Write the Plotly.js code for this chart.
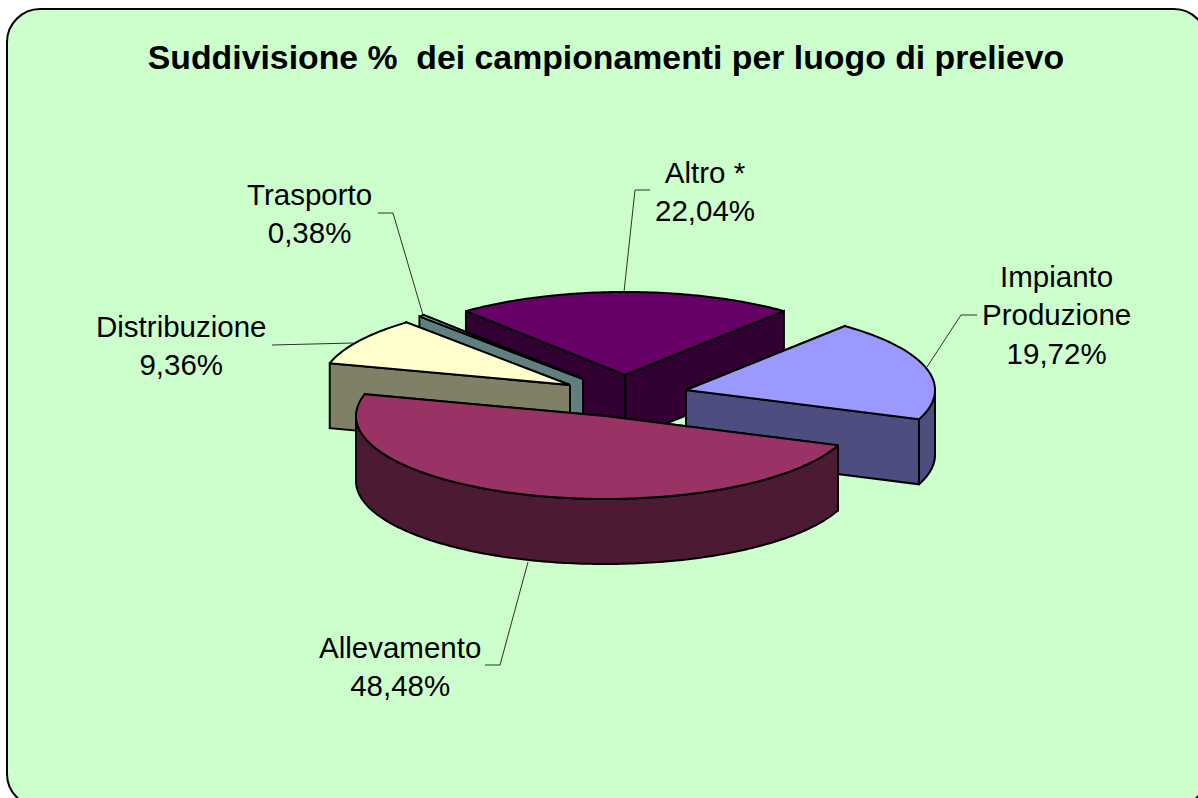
<!DOCTYPE html>
<html><head><meta charset="utf-8">
<script src="https://cdn.plot.ly/plotly-3.0.1.min.js"></script>
<style>html,body{margin:0;padding:0;background:#fff}#c{width:1198px;height:798px}</style>
</head><body><div id="c"></div>
<script>
const categories = ["Altro *","Impianto Produzione","Allevamento","Distribuzione","Trasporto"];
const labelLines = [["Altro *"],["Impianto","Produzione"],["Allevamento"],["Distribuzione"],["Trasporto"]];
const shares = [22.04,19.72,48.48,9.36,0.38];
const shareText = ["22,04%","19,72%","48,48%","9,36%","0,38%"];
const topColors = ["#660066","#9999FF","#993366","#FFFFCC","#A6CAF0"];
const wallColors = ["#330033","#4D4D80","#4D1A33","#808066","#608080"];
// exploded apex of each slice
const apexX = [625,686,605,570,583];
const apexY = [375,390,416,385,379];
const drawOrder = [0,4,3,1,2];
const firstAngle = -39.7, radiusX = 249, radiusY = 83, depth = 65;
const leaders = [
  [[650,635,624],[190,190,292]],
  [[977,961,927],[315,315,367]],
  [[485,500,528],[665,665,562]],
  [[272,353],[345,343]],
  [[378,393,423],[213,213,315]]
];
const labelPos = [[705,191],[1056,315],[400,666],[181,345],[309,213]];

function rim(i,a){const r=a*Math.PI/180;return [apexX[i]+radiusX*Math.sin(r),apexY[i]-radiusY*Math.cos(r)];}
function arc(i,a,b){const out=[];const n=Math.max(2,Math.ceil(Math.abs(b-a)));for(let k=0;k<=n;k++)out.push(rim(i,a+(b-a)*k/n));return out;}
function poly(pts,color,name){return {type:"scatter",mode:"lines",x:pts.map(p=>p[0]),y:pts.map(p=>p[1]),fill:"toself",fillcolor:color,line:{color:"#000",width:2,simplify:false},hoverinfo:"text",text:name,showlegend:false};}
const total = shares.reduce((s,v)=>s+v,0);
let acc = firstAngle; const starts=[],ends=[];
shares.forEach(v=>{starts.push(acc);acc+=v/total*360;ends.push(acc);});
const traces=[];
leaders.forEach(l=>traces.push({type:"scatter",mode:"lines",x:l[0],y:l[1],line:{color:"#000",width:0.8},hoverinfo:"skip",showlegend:false}));
drawOrder.forEach(i=>{
  const a=starts[i],b=ends[i],ap=[apexX[i],apexY[i]],nm=categories[i]+" "+shareText[i];
  [a,b].sort((u,v)=>rim(i,u)[1]-rim(i,v)[1]).forEach(t=>{const p=rim(i,t);
    traces.push(poly([ap,p,[p[0],p[1]+depth],[ap[0],ap[1]+depth],ap],wallColors[i],nm));});
  const lo=Math.max(a,90),hi=Math.min(b,270);
  if(hi>lo){const ar=arc(i,lo,hi);
    traces.push(poly(ar.concat(ar.slice().reverse().map(p=>[p[0],p[1]+depth])).concat([ar[0]]),wallColors[i],nm));}
  traces.push(poly([ap].concat(arc(i,a,b)).concat([ap]),topColors[i],nm));
});
const annotations=categories.map((c,i)=>({x:labelPos[i][0],y:labelPos[i][1],xref:"x",yref:"y",xanchor:"center",yanchor:"middle",showarrow:false,align:"center",
  text:labelLines[i].concat([shareText[i]]).join("<br>"),font:{family:"Liberation Sans",size:29.5,color:"#000"}}));
const layout={width:1198,height:798,margin:{l:0,r:0,t:0,b:0},paper_bgcolor:"#fff",plot_bgcolor:"rgba(0,0,0,0)",showlegend:false,
  title:{text:"<b>Suddivisione %&nbsp; dei campionamenti per luogo di prelievo</b>",x:606/1198,xanchor:"center",y:1-57/798,yanchor:"middle",font:{family:"Liberation Sans",size:33.8,color:"#000"}},
  xaxis:{range:[0,1198],visible:false,fixedrange:true},
  yaxis:{range:[798,0],visible:false,fixedrange:true},
  annotations,
  shapes:[{type:"path",layer:"below",xref:"x",yref:"y",path:"M 7 42 C 7 24 22 9 40 9 L 1174 9 C 1192 9 1207 24 1207 42 L 1207 774 C 1207 792 1192 807 1174 807 L 40 807 C 22 807 7 792 7 774 Z",fillcolor:"#CCFFCC",line:{color:"#000",width:2}}]};
Plotly.newPlot("c",traces,layout,{displayModeBar:false,staticPlot:true});
</script></body></html>
